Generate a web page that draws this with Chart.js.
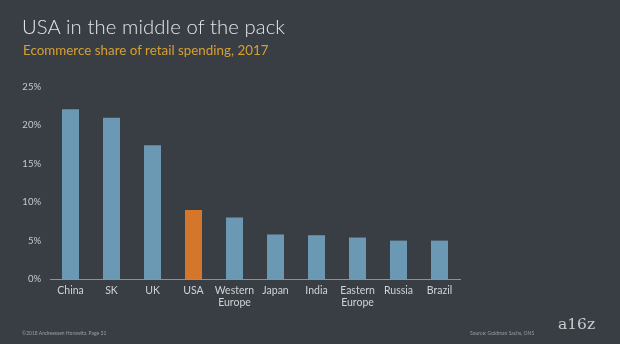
<!DOCTYPE html>
<html>
<head>
<meta charset="utf-8">
<script src="https://cdn.jsdelivr.net/npm/chart.js@4"></script>
<style>
  html, body { margin: 0; padding: 0; }
  body { width: 620px; height: 344px; background: #393e45; position: relative; overflow: hidden; font-family: Lato, "Open Sans", sans-serif; }
  #wrap { position: absolute; left: 0; top: 0; width: 620px; height: 344px; }
  .t { position: absolute; white-space: nowrap; }
  #title { left: 22px; top: 14px; font-size: 20.3px; color: #e4e5e6; font-weight: 300; letter-spacing: 0.1px; }
  #subtitle { left: 23px; top: 42px; font-size: 13.4px; color: #d6a030; }
  #copy { left: 22px; top: 330px; font-size: 5px; color: #9a9ea3; }
  #source { left: 470px; top: 330px; font-size: 5px; color: #9a9ea3; }
  #logo { left: 558px; top: 315px; font-size: 15.5px; color: #c9cbcd; font-family: "DejaVu Serif", "Liberation Serif", serif; }
</style>
</head>
<body>
<div id="wrap"><canvas id="c" width="620" height="344"></canvas></div>
<div class="t" id="title">USA in the middle of the pack</div>
<div class="t" id="subtitle">Ecommerce share of retail spending, 2017</div>
<div class="t" id="copy">©2018 Andreessen Horowitz. Page 31</div>
<div class="t" id="source">Source: Goldman Sachs, ONS</div>
<div class="t" id="logo">a16z</div>
<script>
const categories = ["China", "SK", "UK", "USA", ["Western", "Europe"], "Japan", "India", ["Eastern", "Europe"], "Russia", "Brazil"];
const shareValues = [22.1, 21.0, 17.4, 9.0, 8.0, 5.8, 5.7, 5.4, 5.0, 5.0];
const yTickValues = [0, 5, 10, 15, 20, 25];
const highlightCategory = "USA";

const barColors = categories.map(c => c === highlightCategory ? "#d4772b" : "#6b98b3");

new Chart(document.getElementById("c"), {
  type: "bar",
  data: {
    labels: categories,
    datasets: [{
      data: shareValues,
      backgroundColor: barColors,
      borderWidth: 0,
      barPercentage: 0.83,
      categoryPercentage: 0.5
    }]
  },
  options: {
    responsive: false,
    animation: false,
    devicePixelRatio: 1,
    layout: { padding: { left: 0, right: 160, top: 87, bottom: 25 } },
    plugins: { legend: { display: false }, tooltip: { enabled: false } },
    scales: {
      x: {
        grid: { display: false, drawTicks: false },
        border: { display: true, color: "#8e9297", width: 1 },
        ticks: { color: "#d0d2d4", font: { family: "Lato, 'Open Sans', sans-serif", size: 10.5 }, padding: 5, maxRotation: 0, autoSkip: false },
        afterFit: s => { s.height = 40; }
      },
      y: {
        min: 0, max: 25,
        afterBuildTicks: s => { s.ticks = yTickValues.map(v => ({ value: v })); },
        grid: { display: false, drawTicks: false },
        border: { display: false },
        ticks: { color: "#c8cacc", font: { family: "Lato, 'Open Sans', sans-serif", size: 9.5 }, padding: 9, callback: v => v + "%" },
        afterFit: s => { s.width = 50; }
      }
    }
  }
});
</script>
</body>
</html>
